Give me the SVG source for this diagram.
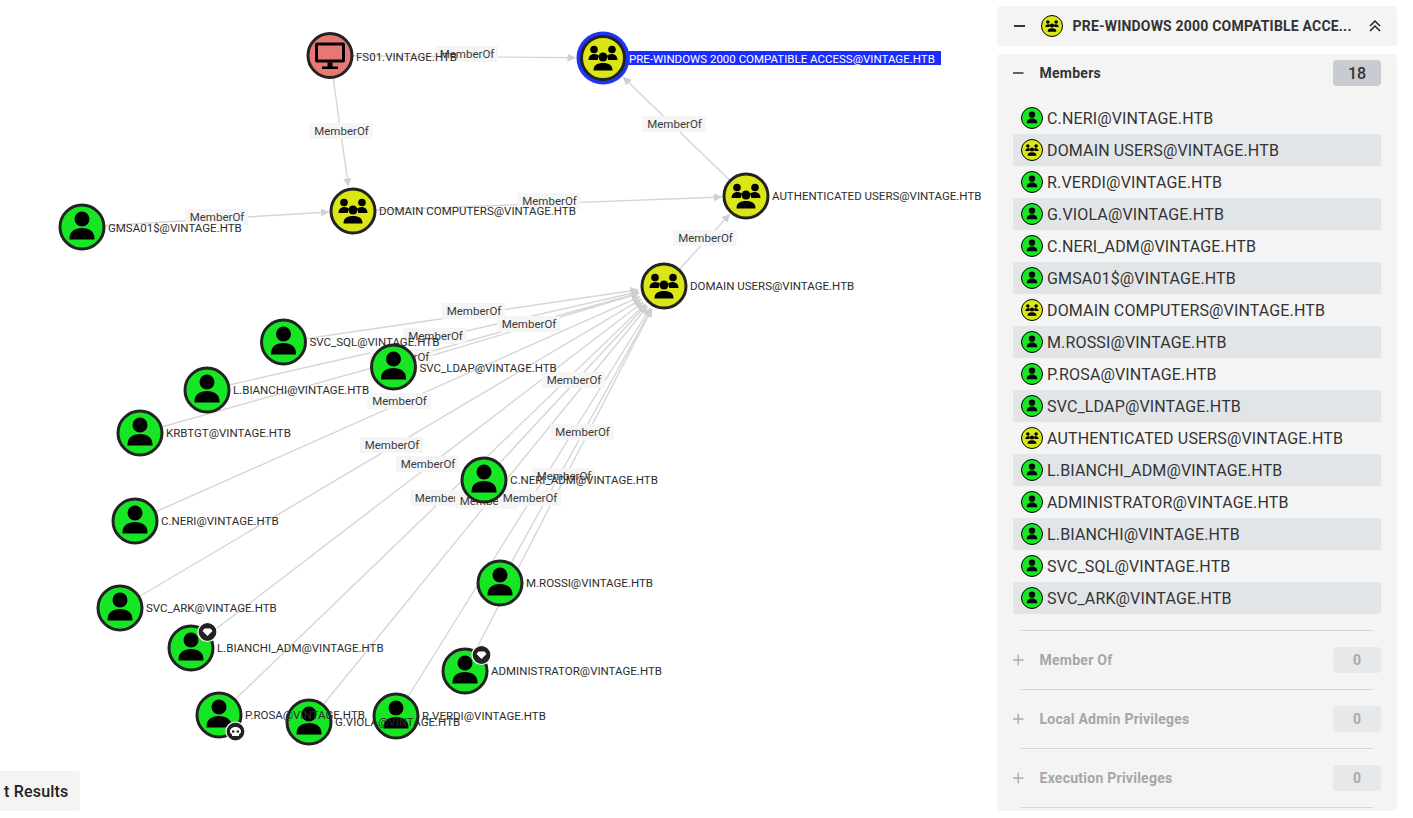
<svg xmlns="http://www.w3.org/2000/svg" width="1413" height="818" viewBox="0 0 1413 818">
<style>
text{font-family:Roboto,"Liberation Sans",sans-serif}
.e{stroke:#d6d6d6;stroke-width:1.4;fill:none;marker-end:url(#arr)}
.lb rect{fill:#f5f5f5;x:-32px;y:-8px;width:63px;height:16px}
.lb text{font-size:11.500px;fill:#3a3a3a;text-anchor:middle}
.nc{stroke:#232323;stroke-width:3}
.u{fill:#17e625}.g{fill:#dbe617}.c{fill:#e67873}
.nl{font-size:11.500px;fill:#2c2c2c}
.bd{fill:#222;stroke:#fff;stroke-width:1.200}
.panel{fill:#f4f4f4}
.row{fill:#e2e5e8}
.rt{font-size:16px;fill:#333;letter-spacing:.15px}
.ic{stroke:#000;stroke-width:1}
.h{font-size:14px;font-weight:700;fill:#333;letter-spacing:.25px}
.pill{fill:#c8ccd0}
.pill2{fill:#e7e8e9}
.cnt{font-size:16px;font-weight:500;fill:#333;text-anchor:middle}
.cnt2{font-size:14px;font-weight:700;fill:#aaa;text-anchor:middle}
.off{font-size:14px;font-weight:700;fill:#a6a6a6;letter-spacing:.25px}
.pm{stroke:#aaa;stroke-width:1.400;fill:none}
.sep{stroke:#d6d6d6;stroke-width:1}
</style>
<defs>
<marker id="arr" viewBox="0 0 10 10" refX="10" refY="5" markerWidth="8" markerHeight="8" markerUnits="userSpaceOnUse" orient="auto"><path d="M0,0L10,5L0,10Z" fill="#cfcfcf"/></marker>
<g id="i-user"><circle cx="0" cy="-8" r="7.500"/><path d="M-12.500,12.500C-13,4.500 -7,1 0,1C7,1 13,4.500 12.500,12.500Z"/></g>
<g id="i-group"><circle cx="-9" cy="-8.500" r="3.800"/><circle cx="9" cy="-8.500" r="3.800"/><path d="M-14.500,2C-14.500,-2.500 -11,-4 -8.500,-4C-6,-4 -4.500,-3 -4,-2C-5,0 -5.500,1 -5,2Z"/><path d="M14.500,2C14.500,-2.500 11,-4 8.500,-4C6,-4 4.500,-3 4,-2C5,0 5.500,1 5,2Z"/><circle cx="0" cy="-1" r="4.500"/><path d="M-9.500,12.500C-9.500,7 -6,5 0,5C6,5 9.500,7 9.500,12.500Z"/></g>
<g id="i-pc"><path fill-rule="evenodd" d="M-13,-13H13Q15,-13 15,-11V5Q15,7 13,7H-13Q-15,7 -15,5V-11Q-15,-13 -13,-13ZM-12,-10V4H12V-10Z"/><rect x="-2.500" y="7" width="5" height="4.500"/><rect x="-8" y="11" width="16" height="2.500"/></g>
<g id="i-gem"><path d="M-3,-3.500H3L5,-1L0,4L-5,-1Z" fill="#fff"/></g>
<g id="i-skull"><path d="M0,-4.500C-4,-4.500 -5.500,-2 -5.500,0C-5.500,1.500 -4.500,2.500 -3.500,2.800V4.500H3.500V2.800C4.500,2.500 5.500,1.500 5.500,0C5.500,-2 4,-4.500 0,-4.500Z" fill="#fff"/><circle cx="-2.300" cy="0" r="1.300" fill="#222"/><circle cx="2.300" cy="0" r="1.300" fill="#222"/></g>
</defs>
<rect width="1413" height="818" fill="#fff"/>

<g id="connectors">
<path class="e" d="M330,55.500L575.500,57.700"/>
<path class="e" d="M330,55.500L348.400,186.500"/>
<path class="e" d="M82,227L329,212"/>
<path class="e" d="M353,211L722,197"/>
<path class="e" d="M746,196L623,77"/>
<path class="e" d="M664,286L730,214"/>
<path class="e" d="M283.500,342L638.300,289.800"/>
<path class="e" d="M207,390L638.600,291.800"/>
<path class="e" d="M140,433L639,293"/>
<path class="e" d="M393.500,367L639,293.500"/>
<path class="e" d="M135,521L640.200,296.600"/>
<path class="e" d="M484,480L646.300,305"/>
<path class="e" d="M120,608L641.600,299.200"/>
<path class="e" d="M191,648L643.400,301.800"/>
<path class="e" d="M219,715L645.300,304"/>
<path class="e" d="M309,722L647.600,306.200"/>
<path class="e" d="M396,716L650.200,308"/>
<path class="e" d="M465,671L652,309"/>
<path class="e" d="M500,583L651.400,308.800"/>
</g>

<g id="edge-labels">
<g class="lb" transform="translate(467,54)"><rect/><text y="4">MemberOf</text></g>
<g class="lb" transform="translate(341.500,131)"><rect/><text y="4">MemberOf</text></g>
<g class="lb" transform="translate(549.500,201)"><rect/><text y="4">MemberOf</text></g>
<g class="lb" transform="translate(217,217)"><rect/><text y="4">MemberOf</text></g>
<g class="lb" transform="translate(674.500,124)"><rect/><text y="4">MemberOf</text></g>
<g class="lb" transform="translate(705.500,238)"><rect/><text y="4">MemberOf</text></g>
<g class="lb" transform="translate(474,311)"><rect/><text y="4">MemberOf</text></g>
<g class="lb" transform="translate(435.500,336)"><rect/><text y="4">MemberOf</text></g>
<g class="lb" transform="translate(402,357)"><rect/><text y="4">MemberOf</text></g>
<g class="lb" transform="translate(529,324)"><rect/><text y="4">MemberOf</text></g>
<g class="lb" transform="translate(399.500,401)"><rect/><text y="4">MemberOf</text></g>
<g class="lb" transform="translate(574,380)"><rect/><text y="4">MemberOf</text></g>
<g class="lb" transform="translate(392,445)"><rect/><text y="4">MemberOf</text></g>
<g class="lb" transform="translate(428,464)"><rect/><text y="4">MemberOf</text></g>
<g class="lb" transform="translate(442,498)"><rect/><text y="4">MemberOf</text></g>
<g class="lb" transform="translate(487,501)"><rect/><text y="4">MemberOf</text></g>
<g class="lb" transform="translate(530,498)"><rect/><text y="4">MemberOf</text></g>
<g class="lb" transform="translate(564,476)"><rect/><text y="4">MemberOf</text></g>
<g class="lb" transform="translate(582.500,432)"><rect/><text y="4">MemberOf</text></g>
</g>

<g id="n-fs01" transform="translate(330,55.500)"><circle class="nc c" r="22"/><use href="#i-pc"/><text class="nl" x="26" y="5">FS01.VINTAGE.HTB</text></g>
<g id="n-prewin" transform="translate(603,58)"><circle r="26.500" fill="#1d35f5"/><circle class="nc g" r="21.500"/><use href="#i-group"/><rect x="25" y="-7" width="313" height="14" fill="#1d2cff"/><text class="nl" x="26" y="4.500" style="fill:#fff">PRE-WINDOWS 2000 COMPATIBLE ACCESS@VINTAGE.HTB</text></g>
<g id="n-domcomp" transform="translate(353,211)"><circle class="nc g" r="22"/><use href="#i-group"/><text class="nl" x="26" y="4">DOMAIN COMPUTERS@VINTAGE.HTB</text></g>
<g id="n-auth" transform="translate(746,196)"><circle class="nc g" r="22"/><use href="#i-group"/><text class="nl" x="26" y="4">AUTHENTICATED USERS@VINTAGE.HTB</text></g>
<g id="n-gmsa" transform="translate(82,227)"><circle class="nc u" r="22"/><use href="#i-user"/><text class="nl" x="26" y="5">GMSA01$@VINTAGE.HTB</text></g>
<g id="n-domusers" transform="translate(664,286)"><circle class="nc g" r="22"/><use href="#i-group"/><text class="nl" x="26" y="4">DOMAIN USERS@VINTAGE.HTB</text></g>
<g id="n-svcldap" transform="translate(393.500,367)"><circle class="nc u" r="22"/><use href="#i-user"/><text class="nl" x="26" y="5">SVC_LDAP@VINTAGE.HTB</text></g>
<g id="n-svcsql" transform="translate(283.500,342)"><circle class="nc u" r="22"/><use href="#i-user"/><text class="nl" x="26" y="4">SVC_SQL@VINTAGE.HTB</text></g>
<g id="n-lbianchi" transform="translate(207,390)"><circle class="nc u" r="22"/><use href="#i-user"/><text class="nl" x="26" y="4">L.BIANCHI@VINTAGE.HTB</text></g>
<g id="n-krbtgt" transform="translate(140,433)"><circle class="nc u" r="22"/><use href="#i-user"/><text class="nl" x="26" y="4">KRBTGT@VINTAGE.HTB</text></g>
<g id="n-cneri" transform="translate(135,521)"><circle class="nc u" r="22"/><use href="#i-user"/><text class="nl" x="26" y="4">C.NERI@VINTAGE.HTB</text></g>
<g id="n-cneriadm" transform="translate(484,480)"><circle class="nc u" r="22"/><use href="#i-user"/><text class="nl" x="26" y="4">C.NERI_ADM@VINTAGE.HTB</text></g>
<g id="n-mrossi" transform="translate(500,583)"><circle class="nc u" r="22"/><use href="#i-user"/><text class="nl" x="26" y="4">M.ROSSI@VINTAGE.HTB</text></g>
<g id="n-svcark" transform="translate(120,608)"><circle class="nc u" r="22"/><use href="#i-user"/><text class="nl" x="26" y="4">SVC_ARK@VINTAGE.HTB</text></g>
<g id="n-lbianchiadm" transform="translate(191,648)"><circle class="nc u" r="22"/><use href="#i-user"/><circle class="bd" cx="16.500" cy="-16" r="9.500"/><use href="#i-gem" x="16.500" y="-16"/><text class="nl" x="26" y="4">L.BIANCHI_ADM@VINTAGE.HTB</text></g>
<g id="n-admin" transform="translate(465,671)"><circle class="nc u" r="22"/><use href="#i-user"/><circle class="bd" cx="16.500" cy="-16" r="9.500"/><use href="#i-gem" x="16.500" y="-16"/><text class="nl" x="26" y="4">ADMINISTRATOR@VINTAGE.HTB</text></g>
<g id="n-rverdi" transform="translate(396,716)"><circle class="nc u" r="22"/><use href="#i-user"/><text class="nl" x="26" y="4">R.VERDI@VINTAGE.HTB</text></g>
<g id="n-gviola" transform="translate(309,722)"><circle class="nc u" r="22"/><use href="#i-user"/><text class="nl" x="26" y="4">G.VIOLA@VINTAGE.HTB</text></g>
<g id="n-prosa" transform="translate(219,715)"><circle class="nc u" r="22"/><use href="#i-user"/><circle class="bd" cx="16.500" cy="16.500" r="9.500"/><use href="#i-skull" x="16.500" y="16.500"/><text class="nl" x="26" y="4">P.ROSA@VINTAGE.HTB</text></g>

<g id="results-button"><rect x="-20" y="771" width="100" height="40" rx="4" class="panel"/><text x="4" y="796.500" font-size="16" font-weight="500" fill="#222" letter-spacing="0.200">t Results</text></g>

<g id="panel-header">
<rect x="997" y="6" width="400" height="40" rx="4" class="panel"/>
<path d="M1014,26H1025" stroke="#222" stroke-width="1.800"/>
<g transform="translate(1052,26)"><circle class="ic g" r="10.500"/><use href="#i-group" transform="scale(.46)"/></g>
<text x="1072.500" y="31" font-size="14" font-weight="700" fill="#333" letter-spacing=".2">PRE-WINDOWS 2000 COMPATIBLE ACCE...</text>
<path d="M1370,26L1375,21L1380,26M1370,31L1375,26L1380,31" fill="none" stroke="#222" stroke-width="1.500"/>
</g>

<g id="panel-members">
<rect x="997" y="54" width="400" height="757" rx="4" class="panel"/>
<path d="M1013,73H1023.500" stroke="#333" stroke-width="1.500"/>
<text class="h" x="1039.500" y="78">Members</text>
<rect x="1333" y="60" width="48" height="26" rx="4" class="pill"/>
<text class="cnt" x="1357" y="79">18</text>

<rect x="1013" y="134" width="368" height="32" class="row"/>
<rect x="1013" y="198" width="368" height="32" class="row"/>
<rect x="1013" y="262" width="368" height="32" class="row"/>
<rect x="1013" y="326" width="368" height="32" class="row"/>
<rect x="1013" y="390" width="368" height="32" class="row"/>
<rect x="1013" y="454" width="368" height="32" class="row"/>
<rect x="1013" y="518" width="368" height="32" class="row"/>
<rect x="1013" y="582" width="368" height="32" rx="3" class="row"/>

<g transform="translate(1032,118)"><circle class="ic u" r="10.500"/><use href="#i-user" transform="scale(.42)"/></g><text class="rt" x="1047" y="124">C.NERI@VINTAGE.HTB</text>
<g transform="translate(1032,150)"><circle class="ic g" r="10.500"/><use href="#i-group" transform="scale(.46)"/></g><text class="rt" x="1047" y="156">DOMAIN USERS@VINTAGE.HTB</text>
<g transform="translate(1032,182)"><circle class="ic u" r="10.500"/><use href="#i-user" transform="scale(.42)"/></g><text class="rt" x="1047" y="188">R.VERDI@VINTAGE.HTB</text>
<g transform="translate(1032,214)"><circle class="ic u" r="10.500"/><use href="#i-user" transform="scale(.42)"/></g><text class="rt" x="1047" y="220">G.VIOLA@VINTAGE.HTB</text>
<g transform="translate(1032,246)"><circle class="ic u" r="10.500"/><use href="#i-user" transform="scale(.42)"/></g><text class="rt" x="1047" y="252">C.NERI_ADM@VINTAGE.HTB</text>
<g transform="translate(1032,278)"><circle class="ic u" r="10.500"/><use href="#i-user" transform="scale(.42)"/></g><text class="rt" x="1047" y="284">GMSA01$@VINTAGE.HTB</text>
<g transform="translate(1032,310)"><circle class="ic g" r="10.500"/><use href="#i-group" transform="scale(.46)"/></g><text class="rt" x="1047" y="316">DOMAIN COMPUTERS@VINTAGE.HTB</text>
<g transform="translate(1032,342)"><circle class="ic u" r="10.500"/><use href="#i-user" transform="scale(.42)"/></g><text class="rt" x="1047" y="348">M.ROSSI@VINTAGE.HTB</text>
<g transform="translate(1032,374)"><circle class="ic u" r="10.500"/><use href="#i-user" transform="scale(.42)"/></g><text class="rt" x="1047" y="380">P.ROSA@VINTAGE.HTB</text>
<g transform="translate(1032,406)"><circle class="ic u" r="10.500"/><use href="#i-user" transform="scale(.42)"/></g><text class="rt" x="1047" y="412">SVC_LDAP@VINTAGE.HTB</text>
<g transform="translate(1032,438)"><circle class="ic g" r="10.500"/><use href="#i-group" transform="scale(.46)"/></g><text class="rt" x="1047" y="444">AUTHENTICATED USERS@VINTAGE.HTB</text>
<g transform="translate(1032,470)"><circle class="ic u" r="10.500"/><use href="#i-user" transform="scale(.42)"/></g><text class="rt" x="1047" y="476">L.BIANCHI_ADM@VINTAGE.HTB</text>
<g transform="translate(1032,502)"><circle class="ic u" r="10.500"/><use href="#i-user" transform="scale(.42)"/></g><text class="rt" x="1047" y="508">ADMINISTRATOR@VINTAGE.HTB</text>
<g transform="translate(1032,534)"><circle class="ic u" r="10.500"/><use href="#i-user" transform="scale(.42)"/></g><text class="rt" x="1047" y="540">L.BIANCHI@VINTAGE.HTB</text>
<g transform="translate(1032,566)"><circle class="ic u" r="10.500"/><use href="#i-user" transform="scale(.42)"/></g><text class="rt" x="1047" y="572">SVC_SQL@VINTAGE.HTB</text>
<g transform="translate(1032,598)"><circle class="ic u" r="10.500"/><use href="#i-user" transform="scale(.42)"/></g><text class="rt" x="1047" y="604">SVC_ARK@VINTAGE.HTB</text>

<path class="sep" d="M1021,630.500H1373M1021,689.500H1373M1021,748.500H1373M1021,807.500H1373"/>
<path class="pm" d="M1013,660H1023.500M1018.200,654.700V665.300"/>
<text class="off" x="1039.500" y="665">Member Of</text>
<rect x="1333" y="647" width="48" height="26" rx="4" class="pill2"/><text class="cnt2" x="1357" y="665">0</text>
<path class="pm" d="M1013,719H1023.500M1018.200,713.700V724.300"/>
<text class="off" x="1039.500" y="724">Local Admin Privileges</text>
<rect x="1333" y="706" width="48" height="26" rx="4" class="pill2"/><text class="cnt2" x="1357" y="724">0</text>
<path class="pm" d="M1013,778H1023.500M1018.200,772.700V783.300"/>
<text class="off" x="1039.500" y="783">Execution Privileges</text>
<rect x="1333" y="765" width="48" height="26" rx="4" class="pill2"/><text class="cnt2" x="1357" y="783">0</text>
</g>
</svg>
